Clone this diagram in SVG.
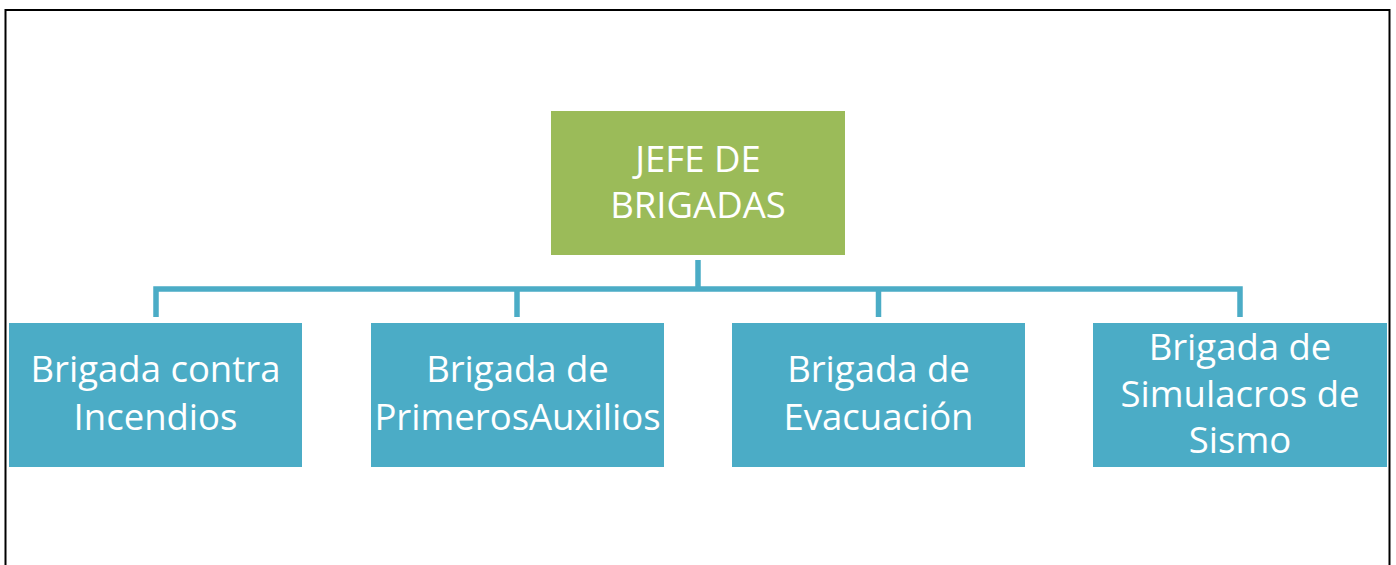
<svg xmlns="http://www.w3.org/2000/svg" width="1396" height="565" viewBox="0 0 1396 565">
<style>
.frame{fill:none;stroke:#000;stroke-width:2}
.root{fill:#9BBB59}
.child{fill:#4BACC6}
.conn{fill:none;stroke:#4BACC6;stroke-width:5.5}
.lbl{font-family:"Open Sans","Liberation Sans",sans-serif;font-size:36.5px;fill:#fff;text-anchor:middle}
</style>
<rect width="1396" height="565" fill="#fff"/>
<path class="frame" d="M5.5,566 V10 H1389.5 V566"/>
<g id="connectors">
<path class="conn" d="M698,260 V289"/>
<path class="conn" d="M156,317 V289 H1240 V317"/>
<path class="conn" d="M517,289 V317"/>
<path class="conn" d="M878.5,289 V317"/>
</g>
<g id="jefe">
<rect class="root" x="551" y="111" width="294" height="144"/>
<text class="lbl" x="698" y="172">JEFE DE</text>
<text class="lbl" x="698" y="218">BRIGADAS</text>
</g>
<g id="incendios">
<rect class="child" x="9" y="323" width="293" height="144"/>
<text class="lbl" x="155.5" y="382">Brigada contra</text>
<text class="lbl" x="155.5" y="430">Incendios</text>
</g>
<g id="auxilios">
<rect class="child" x="371" y="323" width="293" height="144"/>
<text class="lbl" x="517.5" y="382">Brigada de</text>
<text class="lbl" x="517.5" y="430">PrimerosAuxilios</text>
</g>
<g id="evacuacion">
<rect class="child" x="732" y="323" width="293" height="144"/>
<text class="lbl" x="878.5" y="382">Brigada de</text>
<text class="lbl" x="878.5" y="430">Evacuación</text>
</g>
<g id="simulacros">
<rect class="child" x="1093" y="323" width="294" height="144"/>
<text class="lbl" x="1240" y="360">Brigada de</text>
<text class="lbl" x="1240" y="406.5">Simulacros de</text>
<text class="lbl" x="1240" y="453">Sismo</text>
</g>
</svg>
